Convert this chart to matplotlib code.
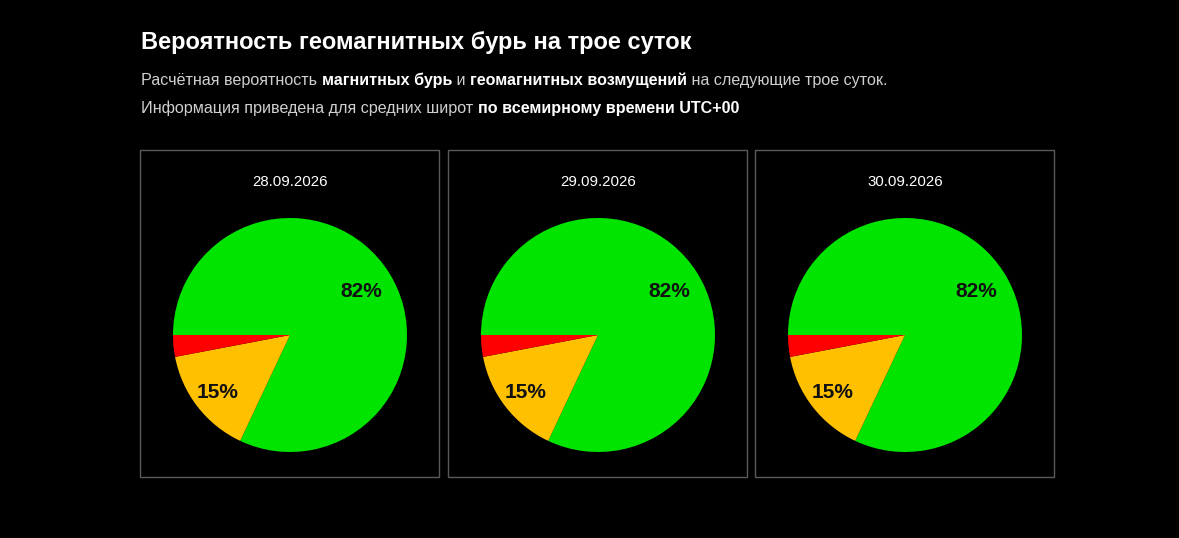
import matplotlib
matplotlib.use("Agg")
import matplotlib.pyplot as plt
from matplotlib.patches import Rectangle
import numpy as np

plt.rcParams["font.family"] = ["Liberation Sans", "DejaVu Sans"]

dates = ["28.09.2026", "29.09.2026", "30.09.2026"]
quiet = [82, 82, 82]          # green: no storm
disturbance = [15, 15, 15]    # yellow: geomagnetic disturbance
storm = [3, 3, 3]             # red: magnetic storm
slice_colors = ["#00e400", "#ffc000", "#ff0000"]

W, H = 1179, 538
DPI = 100

fig = plt.figure(figsize=(W / DPI, H / DPI), dpi=DPI, facecolor="black")
bg = fig.add_axes([0, 0, 1, 1])
bg.set_xlim(0, W)
bg.set_ylim(H, 0)
bg.axis("off")
bg.patch.set_visible(False)

bg.text(141, 42, "Вероятность геомагнитных бурь на трое суток",
        color="white", fontsize=17, fontweight="bold", va="center", ha="left")

renderer = fig.canvas.get_renderer()


def rich_line(x, y, parts):
    for text, bold in parts:
        t = bg.text(x, y, text, fontsize=11.6, va="center", ha="left",
                    color="white" if bold else "#cfcfcf",
                    fontweight="bold" if bold else "normal")
        x += t.get_window_extent(renderer).width


rich_line(141, 80.5, [("Расчётная вероятность ", False), ("магнитных бурь", True),
                      (" и ", False), ("геомагнитных возмущений", True),
                      (" на следующие трое суток.", False)])
rich_line(141, 108.5, [("Информация приведена для средних широт ", False),
                       ("по всемирному времени UTC+00", True)])

panel_x = [140, 448, 755]
panel_w, panel_top, panel_h = 299, 150, 327
radius = 117

for px, date, q, d, s in zip(panel_x, dates, quiet, disturbance, storm):
    bg.add_patch(Rectangle((px, panel_top), panel_w, panel_h, fill=False,
                           edgecolor="#5a5a5a", linewidth=1))
    cx = px + panel_w / 2 + 0.5
    bg.text(cx, 181.5, date, color="white", fontsize=10.8, ha="center", va="center")

    cy = 335
    ax = fig.add_axes([(cx - radius) / W, (H - cy - radius) / H,
                       2 * radius / W, 2 * radius / H])
    values = [q, d, s]
    wedges, _ = ax.pie(values, colors=slice_colors, startangle=180,
                       counterclock=False, radius=1,
                       wedgeprops={"linewidth": 0})
    total = sum(values)
    for w, v, dist in zip(wedges, values, [0.72, 0.78, 0.7]):
        if v / total < 0.05:
            continue
        ang = np.deg2rad((w.theta1 + w.theta2) / 2)
        ax.text(dist * np.cos(ang), dist * np.sin(ang) - 0.01, f"{v}%",
                ha="center", va="center", fontsize=15, fontweight="bold",
                color="#111111")
    ax.set_xlim(-1, 1)
    ax.set_ylim(-1, 1)
    ax.set_aspect("equal")
    ax.axis("off")

fig.savefig("out.png", dpi=DPI, facecolor="black")
